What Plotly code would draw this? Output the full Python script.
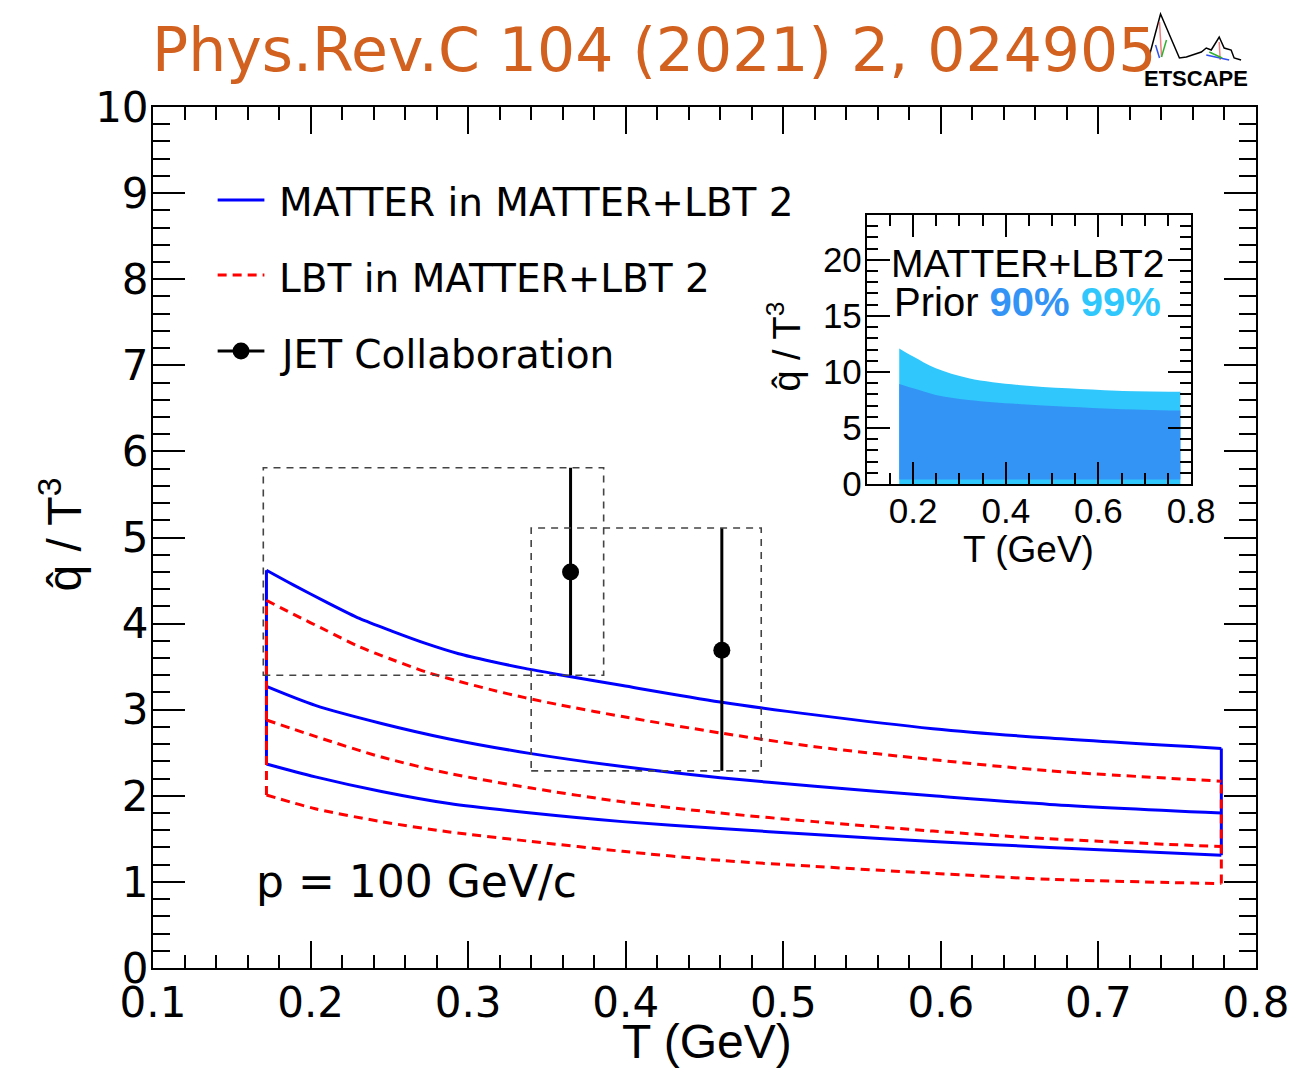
import plotly.graph_objects as go

# ---------------- data ----------------
T_dense = [0.172, 0.189, 0.210, 0.231, 0.252, 0.273, 0.294, 0.315, 0.336, 0.357,
           0.398, 0.460, 0.520, 0.595, 0.669, 0.778]
T_grid = [0.172, 0.203, 0.245, 0.288, 0.340, 0.398, 0.460, 0.520, 0.595, 0.669, 0.778]

matter_upper = [4.62, 4.45, 4.25, 4.06, 3.91, 3.77, 3.65, 3.56, 3.48, 3.41,
                3.28, 3.09, 2.94, 2.78, 2.67, 2.55]
lbt_upper = [4.27, 4.11, 3.92, 3.73, 3.58, 3.44, 3.33, 3.23, 3.14, 3.06,
             2.92, 2.73, 2.57, 2.42, 2.29, 2.17]
matter_median = [3.27, 3.05, 2.84, 2.66, 2.49, 2.34, 2.21, 2.11, 2.00, 1.90, 1.80]
matter_lower = [2.37, 2.22, 2.05, 1.91, 1.80, 1.70, 1.62, 1.55, 1.47, 1.40, 1.31]
lbt_median = [2.88, 2.69, 2.45, 2.26, 2.09, 1.93, 1.80, 1.70, 1.59, 1.50, 1.41]
lbt_lower = [2.01, 1.85, 1.70, 1.58, 1.47, 1.355, 1.25, 1.18, 1.10, 1.03, 0.98]

jet_T = [0.365, 0.461]
jet_q = [4.60, 3.69]
jet_q_hi = [5.81, 5.11]
jet_q_lo = [3.40, 2.29]
jet_T_lo = [0.170, 0.340]
jet_T_hi = [0.386, 0.486]

prior_T = [0.170, 0.200, 0.249, 0.320, 0.427, 0.534, 0.641, 0.777]
prior99_upper = [12.1, 11.37, 10.33, 9.44, 8.84, 8.54, 8.33, 8.24]
prior99_lower = [0.0, 0.0, 0.0, 0.0, 0.0, 0.0, 0.0, 0.0]
prior90_upper = [8.93, 8.54, 7.95, 7.50, 7.14, 6.90, 6.70, 6.55]
prior90_lower = [0.40, 0.40, 0.40, 0.40, 0.40, 0.40, 0.40, 0.40]

x_ticks = [0.1, 0.2, 0.3, 0.4, 0.5, 0.6, 0.7, 0.8]
y_ticks = [0, 1, 2, 3, 4, 5, 6, 7, 8, 9, 10]
inset_x_ticks = [0.2, 0.4, 0.6, 0.8]
inset_y_ticks = [0, 5, 10, 15, 20]

# ---------------- style ----------------
W, H = 1301, 1073
L, R, TOP, BOT = 153, 1262, 107, 968
BLUE = "#0000FF"
RED = "#FF0000"
C90 = "#3394F5"
C99 = "#30C8FC"
ORANGE = "#D2601E"
MAIN_FONT = "DejaVu Sans"
ROOT_FONT = "Liberation Sans"


def px(xp):
    return (xp - L) / (R - L)


def py(yp):
    return (BOT - yp) / (BOT - TOP)


fig = go.Figure()

# JET boxes (dashed)
for tl, th, ql, qh in zip(jet_T_lo, jet_T_hi, jet_q_lo, jet_q_hi):
    fig.add_shape(type="rect", xref="x", yref="y", x0=tl, x1=th, y0=ql, y1=qh,
                  line=dict(color="#444444", width=1.6, dash="7px,6px"), layer="above")


def band(upper, median, lower, color, dash):
    ln = dict(color=color, width=3, dash=dash)
    for xs, ys in ((T_dense, upper), (T_grid, median), (T_grid, lower)):
        fig.add_trace(go.Scatter(x=xs, y=ys, mode="lines", line=dict(ln, shape="spline", smoothing=0.8),
                                 showlegend=False, hoverinfo="skip"))
    for i in (0, -1):
        fig.add_trace(go.Scatter(x=[T_grid[i], T_grid[i]], y=[lower[i], upper[i]], mode="lines",
                                 line=ln, showlegend=False, hoverinfo="skip"))


band(matter_upper, matter_median, matter_lower, BLUE, "solid")
band(lbt_upper, lbt_median, lbt_lower, RED, "9px,6px")

fig.add_trace(go.Scatter(
    x=jet_T, y=jet_q, mode="markers",
    marker=dict(color="black", size=17),
    error_y=dict(type="data", symmetric=False,
                 array=[h - q for h, q in zip(jet_q_hi, jet_q)],
                 arrayminus=[q - l for l, q in zip(jet_q_lo, jet_q)],
                 thickness=3, width=0, color="black"),
    showlegend=False, hoverinfo="skip"))

# inset bands
fig.add_trace(go.Scatter(x=prior_T, y=prior99_lower, mode="lines", line=dict(width=0, color=C99),
                         xaxis="x2", yaxis="y2", showlegend=False, hoverinfo="skip"))
fig.add_trace(go.Scatter(x=prior_T, y=prior99_upper, mode="lines", line=dict(width=0, color=C99, shape="spline"),
                         fill="tonexty", fillcolor=C99, xaxis="x2", yaxis="y2", showlegend=False, hoverinfo="skip"))
fig.add_trace(go.Scatter(x=prior_T, y=prior90_lower, mode="lines", line=dict(width=0, color=C90),
                         xaxis="x2", yaxis="y2", showlegend=False, hoverinfo="skip"))
fig.add_trace(go.Scatter(x=prior_T, y=prior90_upper, mode="lines", line=dict(width=0, color=C90, shape="spline"),
                         fill="tonexty", fillcolor=C90, xaxis="x2", yaxis="y2", showlegend=False, hoverinfo="skip"))

# ---------------- legend (manual, ROOT style) ----------------
leg_rows = [(200, BLUE, "solid", False, "MATTER in MATTER+LBT 2"),
            (275, RED, "9px,6px", False, "LBT in MATTER+LBT 2"),
            (351, "black", "solid", True, "JET Collaboration")]
for yrow, col, dsh, mk, label in leg_rows:
    fig.add_shape(type="line", xref="paper", yref="paper", x0=px(218), x1=px(265), y0=py(yrow), y1=py(yrow),
                  line=dict(color=col, width=3, dash=dsh))
    if mk:
        fig.add_shape(type="circle", xref="paper", yref="paper", x0=px(233), x1=px(250),
                      y0=py(yrow + 8.5), y1=py(yrow - 8.5), fillcolor="black", line=dict(color="black", width=0))
    fig.add_annotation(xref="paper", yref="paper", x=px(278), y=py(yrow + 3), text=label, showarrow=False,
                       xanchor="left", yanchor="middle", font=dict(family=MAIN_FONT, size=39, color="black"))

annots = [
    dict(x=px(150), y=py(50), text="Phys.Rev.C 104 (2021) 2, 024905", xanchor="left",
         font=dict(family=MAIN_FONT, size=60, color=ORANGE)),
    dict(x=px(255), y=py(881), text="p = 100 GeV/c", xanchor="left",
         font=dict(family=MAIN_FONT, size=44, color="black")),
    dict(x=px(710), y=py(1041), text="T (GeV)", xanchor="center",
         font=dict(family=ROOT_FONT, size=48, color="black")),
    dict(x=px(60), y=py(535), text="q\u0302 / T<sup>3</sup>", xanchor="center", textangle=-90,
         font=dict(family=ROOT_FONT, size=48, color="black")),
    dict(x=px(1032), y=py(264), text="MATTER+LBT2", xanchor="center",
         font=dict(family=ROOT_FONT, size=39, color="black")),
    dict(x=px(1032), y=py(302),
         text="Prior <b><span style='color:%s'>90%%</span></b> <b><span style='color:%s'>99%%</span></b>" % (C90, C99),
         xanchor="center", font=dict(family=ROOT_FONT, size=40, color="black")),
    dict(x=px(1033), y=py(549), text="T (GeV)", xanchor="center",
         font=dict(family=ROOT_FONT, size=37, color="black")),
    dict(x=px(787), y=py(347), text="q\u0302 / T<sup>3</sup>", xanchor="center", textangle=-90,
         font=dict(family=ROOT_FONT, size=38, color="black")),
    dict(x=px(1202), y=py(78), text="<b>ETSCAPE</b>", xanchor="center",
         font=dict(family=ROOT_FONT, size=22, color="black")),
]
for a in annots:
    fig.add_annotation(xref="paper", yref="paper", showarrow=False, yanchor="middle", **a)

# ETSCAPE logo sketch (decoration)
logo_pts = [(1155, 55), (1166, 14), (1185, 58), (1192, 57), (1198, 55), (1207, 52), (1212, 48),
            (1217, 50), (1225, 37), (1230, 48), (1237, 50), (1240, 58), (1247, 60)]
path = "M " + " L ".join("%.5f,%.5f" % (px(a), py(b)) for a, b in logo_pts)
fig.add_shape(type="path", xref="paper", yref="paper", path=path, line=dict(color="black", width=1.5))
for (x0, y0, x1, y1, c) in [(1165, 22, 1167, 57, "#F08080"), (1161, 45, 1165, 58, "#3050F0"),
                            (1167, 57, 1172, 40, "#30B030"), (1225, 42, 1226, 60, "#F08080"),
                            (1212, 55, 1235, 60, "#3050F0"), (1215, 52, 1228, 58, "#30B030")]:
    fig.add_shape(type="line", xref="paper", yref="paper", x0=px(x0), y0=py(y0), x1=px(x1), y1=py(y1),
                  line=dict(color=c, width=1.5))

# ---------------- axes ----------------
axis_common = dict(showgrid=False, zeroline=False, showline=True, linecolor="black", linewidth=2,
                   mirror="ticks", ticks="inside", tickcolor="black", tickwidth=1.5)

fig.update_layout(
    width=W, height=H, autosize=False,
    margin=dict(l=L, r=W - R, t=TOP, b=H - BOT, pad=0),
    paper_bgcolor="white", plot_bgcolor="white",
    showlegend=False,
    xaxis=dict(axis_common, range=[0.1, 0.8], tickvals=x_ticks, ticktext=["%.1f" % v for v in x_ticks],
               ticklen=27, ticklabelstandoff=-3,
               minor=dict(dtick=0.02, tick0=0.1, ticklen=13, ticks="inside", tickcolor="black", tickwidth=1.5,
                          showgrid=False),
               tickfont=dict(family=MAIN_FONT, size=42, color="black")),
    yaxis=dict(axis_common, range=[0, 10], tickvals=y_ticks, ticktext=[str(v) for v in y_ticks],
               ticklen=32, ticklabelstandoff=-6,
               minor=dict(dtick=0.2, tick0=0, ticklen=17, ticks="inside", tickcolor="black", tickwidth=1.5,
                          showgrid=False),
               tickfont=dict(family=MAIN_FONT, size=42, color="black")),
    xaxis2=dict(axis_common, domain=[px(870.7), px(1196.7)], anchor="y2", range=[0.1, 0.8],
                tickvals=inset_x_ticks, ticktext=["%.1f" % v for v in inset_x_ticks],
                ticklen=22, ticklabelstandoff=-5,
                minor=dict(dtick=0.05, tick0=0.1, ticklen=11, ticks="inside", tickcolor="black", tickwidth=1.5,
                           showgrid=False),
                tickfont=dict(family=ROOT_FONT, size=35, color="black")),
    yaxis2=dict(axis_common, domain=[py(484), py(215)], anchor="x2", range=[0, 24],
                tickvals=inset_y_ticks, ticktext=[str(v) for v in inset_y_ticks],
                ticklen=23, ticklabelstandoff=-4,
                minor=dict(dtick=1, tick0=0, ticklen=11, ticks="inside", tickcolor="black", tickwidth=1.5,
                           showgrid=False),
                tickfont=dict(family=ROOT_FONT, size=35, color="black")),
)

fig.write_html("out.html", config={"displayModeBar": False},
               post_script="document.body.style.margin='0';")
